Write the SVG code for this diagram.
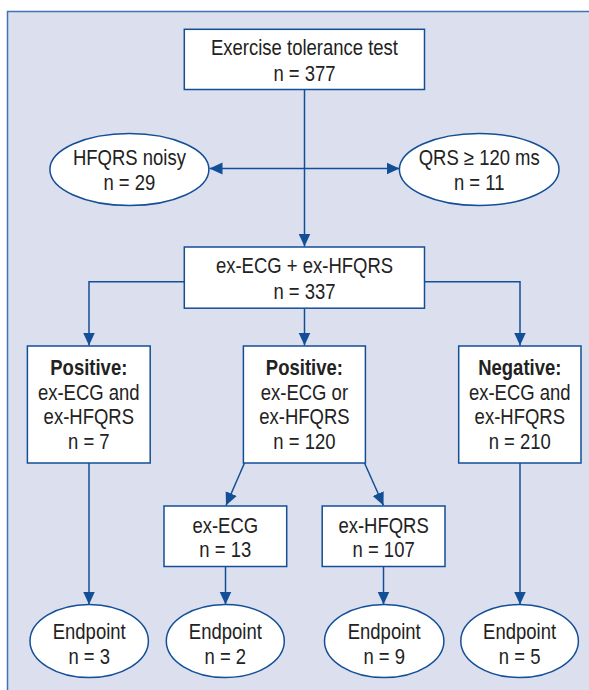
<svg xmlns="http://www.w3.org/2000/svg" width="589" height="690" viewBox="0 0 589 690">
<style>
.box{fill:#fff;stroke:#124f97;stroke-width:1.5}
.t{font-family:"Liberation Sans",Arial,sans-serif;font-size:21.5px;fill:#222;text-anchor:middle}
.b{font-weight:bold}
.c{fill:none;stroke:#124f97;stroke-width:1.5}
</style>
<defs>
<marker id="ah" markerUnits="userSpaceOnUse" markerWidth="13" markerHeight="13" viewBox="0 0 13 13" refX="13" refY="6.5" orient="auto">
<path d="M0,0.5 L13,6.5 L0,12.5 Z" fill="#124f97"/>
</marker>
</defs>
<rect x="7.5" y="11.5" width="600" height="700" fill="#dcdfee" stroke="#3f74b4" stroke-width="1.5"/>
<g id="connectors">
<line class="c" x1="304.5" y1="89.5" x2="304.5" y2="246.5" marker-end="url(#ah)"/>
<line class="c" x1="304.5" y1="168.5" x2="209.5" y2="168.5" marker-end="url(#ah)"/>
<line class="c" x1="304.5" y1="168.5" x2="399.5" y2="168.5" marker-end="url(#ah)"/>
<polyline class="c" points="184.5,281.7 89,281.7 89,345.5" marker-end="url(#ah)"/>
<line class="c" x1="304.5" y1="308" x2="304.5" y2="345.5" marker-end="url(#ah)"/>
<polyline class="c" points="424.5,281.7 520,281.7 520,345.5" marker-end="url(#ah)"/>
<line class="c" x1="244.5" y1="463" x2="226" y2="505.5" marker-end="url(#ah)"/>
<line class="c" x1="364.5" y1="463" x2="383.5" y2="505.5" marker-end="url(#ah)"/>
<line class="c" x1="89" y1="463" x2="89" y2="604.5" marker-end="url(#ah)"/>
<line class="c" x1="225.5" y1="566.5" x2="225.5" y2="604.5" marker-end="url(#ah)"/>
<line class="c" x1="383.5" y1="566.5" x2="383.5" y2="604.5" marker-end="url(#ah)"/>
<line class="c" x1="520" y1="463" x2="520" y2="604.5" marker-end="url(#ah)"/>
</g>
<g id="ett">
<rect class="box" x="184.3" y="29.3" width="240.2" height="60.2"/>
<text class="t" transform="translate(304.5 55) scale(0.86 1)">Exercise tolerance test</text>
<text class="t" transform="translate(304.5 80.5) scale(0.86 1)">n = 377</text>
</g>
<g id="noisy">
<ellipse class="box" cx="129.4" cy="169.5" rx="79.5" ry="36"/>
<text class="t" transform="translate(129.4 165) scale(0.86 1)">HFQRS noisy</text>
<text class="t" transform="translate(129.4 190) scale(0.86 1)">n = 29</text>
</g>
<g id="qrs">
<ellipse class="box" cx="479.2" cy="169.5" rx="79.8" ry="36"/>
<text class="t" transform="translate(479.2 165) scale(0.86 1)">QRS ≥ 120 ms</text>
<text class="t" transform="translate(479.2 190) scale(0.86 1)">n = 11</text>
</g>
<g id="combined">
<rect class="box" x="184.3" y="247" width="240.2" height="61.2"/>
<text class="t" transform="translate(304.5 273) scale(0.86 1)">ex-ECG + ex-HFQRS</text>
<text class="t" transform="translate(304.5 298.5) scale(0.86 1)">n = 337</text>
</g>
<g id="posand">
<rect class="box" x="27.4" y="346" width="122.8" height="117"/>
<text class="t b" transform="translate(88.8 374.5) scale(0.86 1)">Positive:</text>
<text class="t" transform="translate(88.8 399.5) scale(0.86 1)">ex-ECG and</text>
<text class="t" transform="translate(88.8 424) scale(0.86 1)">ex-HFQRS</text>
<text class="t" transform="translate(88.8 449) scale(0.86 1)">n = 7</text>
</g>
<g id="posor">
<rect class="box" x="243.4" y="346" width="122" height="117"/>
<text class="t b" transform="translate(304.4 374.5) scale(0.86 1)">Positive:</text>
<text class="t" transform="translate(304.4 399.5) scale(0.86 1)">ex-ECG or</text>
<text class="t" transform="translate(304.4 424) scale(0.86 1)">ex-HFQRS</text>
<text class="t" transform="translate(304.4 449) scale(0.86 1)">n = 120</text>
</g>
<g id="neg">
<rect class="box" x="458.7" y="346" width="122.3" height="117"/>
<text class="t b" transform="translate(519.8 374.5) scale(0.86 1)">Negative:</text>
<text class="t" transform="translate(519.8 399.5) scale(0.86 1)">ex-ECG and</text>
<text class="t" transform="translate(519.8 424) scale(0.86 1)">ex-HFQRS</text>
<text class="t" transform="translate(519.8 449) scale(0.86 1)">n = 210</text>
</g>
<g id="execg">
<rect class="box" x="164" y="506" width="122.7" height="60.5"/>
<text class="t" transform="translate(225.3 533) scale(0.86 1)">ex-ECG</text>
<text class="t" transform="translate(225.3 557) scale(0.86 1)">n = 13</text>
</g>
<g id="exhfqrs">
<rect class="box" x="322.2" y="506" width="122.8" height="60.5"/>
<text class="t" transform="translate(383.6 533) scale(0.86 1)">ex-HFQRS</text>
<text class="t" transform="translate(383.6 557) scale(0.86 1)">n = 107</text>
</g>
<g id="ep1">
<ellipse class="box" cx="89.2" cy="641" rx="59.2" ry="36.5"/>
<text class="t" transform="translate(89.2 638.5) scale(0.86 1)">Endpoint</text>
<text class="t" transform="translate(89.2 663.5) scale(0.86 1)">n = 3</text>
</g>
<g id="ep2">
<ellipse class="box" cx="225.3" cy="641" rx="59" ry="36.5"/>
<text class="t" transform="translate(225.3 638.5) scale(0.86 1)">Endpoint</text>
<text class="t" transform="translate(225.3 663.5) scale(0.86 1)">n = 2</text>
</g>
<g id="ep3">
<ellipse class="box" cx="384.2" cy="641" rx="59.7" ry="36.5"/>
<text class="t" transform="translate(384.2 638.5) scale(0.86 1)">Endpoint</text>
<text class="t" transform="translate(384.2 663.5) scale(0.86 1)">n = 9</text>
</g>
<g id="ep4">
<ellipse class="box" cx="519.6" cy="641" rx="58.8" ry="36.5"/>
<text class="t" transform="translate(519.6 638.5) scale(0.86 1)">Endpoint</text>
<text class="t" transform="translate(519.6 663.5) scale(0.86 1)">n = 5</text>
</g>
</svg>
